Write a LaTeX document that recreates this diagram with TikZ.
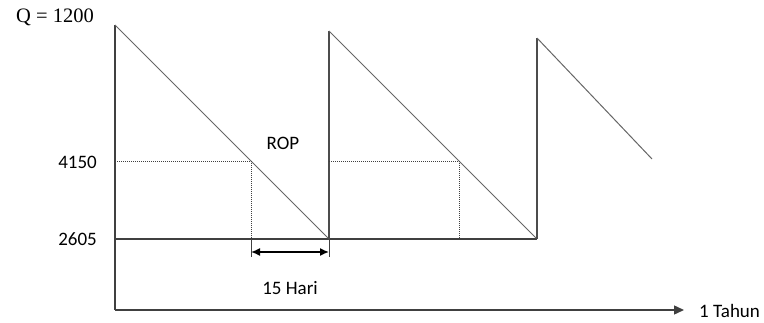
\documentclass[tikz,border=0pt]{standalone}
\usepackage{fontspec}
\setmainfont{Carlito}
\newfontfamily\timesfont{Liberation Serif}
\usetikzlibrary{arrows.meta}
\tikzset{
  axisline/.style={draw=black!75, line width=1.4pt},
  sawline/.style={draw=black!60, line width=1pt},
  riseline/.style={draw=black!70, line width=1.4pt},
  ropline/.style={draw=black!75, line width=0.9pt, dash pattern=on 1pt off 1pt},
  lbl/.style={font=\fontsize{19}{21}\selectfont, inner sep=0pt},
}
\begin{document}
\begin{tikzpicture}[x=1pt,y=-1pt]
\useasboundingbox (0,0) rectangle (764,323);
\coordinate (origin) at (115,310);
\coordinate (xend) at (684,310);
\coordinate (p1) at (115,25);
\coordinate (b1) at (329,239);
\coordinate (p2) at (329,31);
\coordinate (b2) at (537,239);
\coordinate (p3) at (537,38);
\coordinate (e3) at (652,159);
\coordinate (base0) at (115,239);
\coordinate (l1) at (115,161);
\coordinate (r1) at (251,161);
\coordinate (r1b) at (251,239);
\coordinate (l2) at (329,161);
\coordinate (r2) at (459,161);
\coordinate (r2b) at (459,239);
\coordinate (t1) at (251,257);
\coordinate (t2) at (329,257);
\coordinate (a1) at (251,252);
\coordinate (a2) at (329,252);
% axes
\draw[axisline] (p1) -- (origin);
\draw[axisline, -{Triangle[length=10pt,width=9pt]}] (origin) -- (xend);
% base line
\draw[axisline, line width=1.2pt] (base0) -- (b2);
% saw tooth
\draw[sawline] (p1) -- (b1);
\draw[riseline] (b1) -- (p2);
\draw[sawline] (p2) -- (b2);
\draw[riseline] (b2) -- (p3);
\draw[sawline] (p3) -- (e3);
% reorder points
\draw[ropline] (l1) -- (r1) -- (r1b);
\draw[ropline] (l2) -- (r2) -- (r2b);
% lead time marker
\draw[draw=black!75, line width=1pt] (r1b) -- (t1);
\draw[draw=black!75, line width=1pt] (b1) -- (t2);
\draw[line width=1.5pt, {Latex[length=9pt,width=8pt]}-{Latex[length=9pt,width=8pt]}] (a1) -- (a2);
% labels
\node[lbl, anchor=east] (qlbl) at (94,17) {\timesfont\fontsize{20.5}{22}\selectfont Q = 1200};
\node[lbl, anchor=east] (rop) at (97,162) {4150};
\node[lbl, anchor=east] (ss) at (97,239) {2605};
\node[lbl] (roplbl) at (283,143) {ROP};
\node[lbl] (lt) at (290,288) {15 Hari};
\node[lbl, anchor=west] (yr) at (699,311) {1 Tahun};
\end{tikzpicture}
\end{document}
